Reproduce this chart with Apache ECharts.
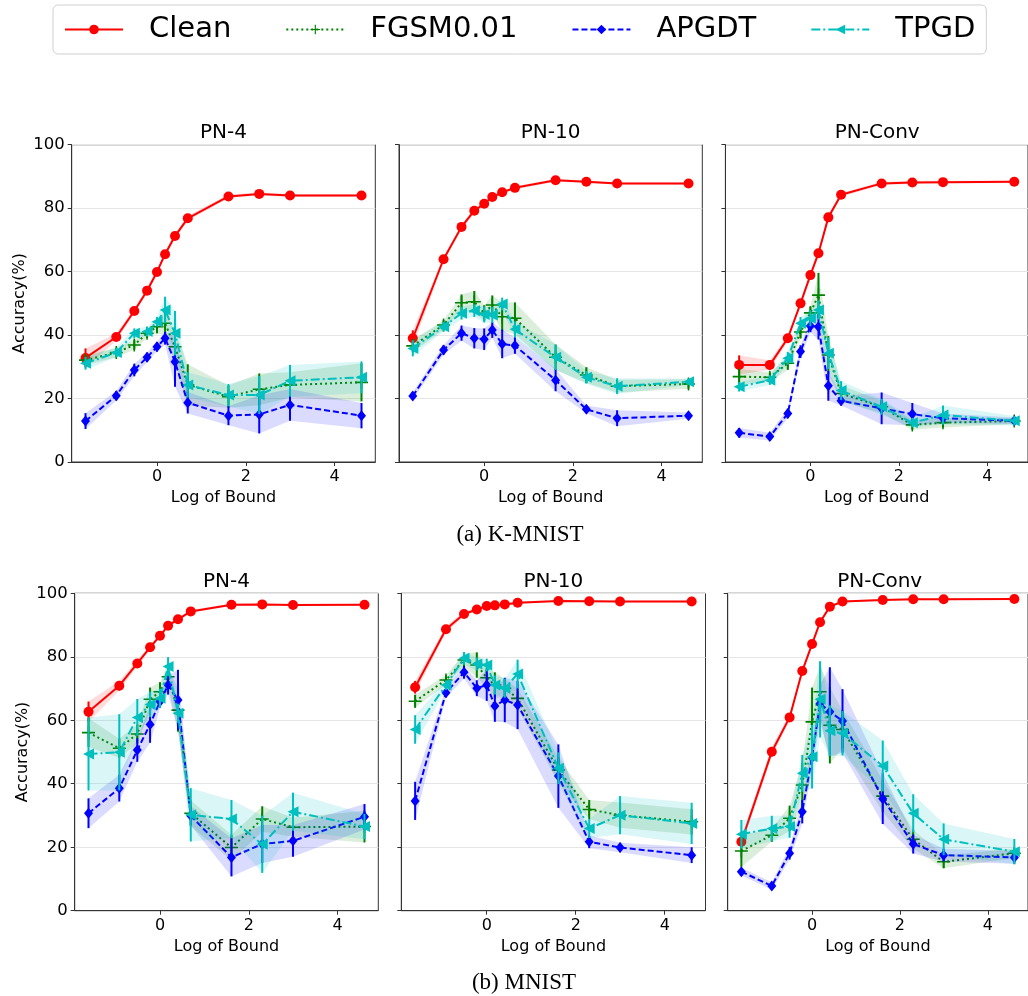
<!DOCTYPE html>
<html><head><meta charset="utf-8">
<script src="https://cdn.jsdelivr.net/npm/echarts@6/dist/echarts.min.js"></script>
<style>html,body{margin:0;padding:0;background:#fff}#c{width:1028px;height:996px}</style>
</head><body><div id="c"></div>
<script>
// ---------- data ----------
const bounds = [0.2, 0.4, 0.6, 0.8, 1, 1.2, 1.5, 2, 5, 10, 20, 100];
const seriesNames = ['Clean', 'FGSM0.01', 'APGDT', 'TPGD'];
const panelTitles = ['PN-4', 'PN-10', 'PN-Conv'];
const captions = ['(a) K-MNIST', '(b) MNIST'];
const xTickValues = [0, 2, 4];

// K-MNIST PN-4
const k4_clean = [32.8, 39.4, 47.6, 54.0, 59.9, 65.5, 71.2, 76.8, 83.7, 84.5, 84.0, 84.0];
const k4_clean_sd = [3.0, 1.2, 0.8, 0.8, 0.8, 0.8, 0.8, 0.8, 0.6, 0.5, 0.5, 0.5];
const k4_fgsm = [32.1, 34.5, 36.9, 40.6, 42.6, 43.7, 36.3, 24.3, 20.6, 22.9, 24.3, 25.1];
const k4_fgsm_sd = [1.5, 1.5, 1.5, 1.5, 2, 4, 5, 6.5, 3.5, 5, 4, 6];
const k4_apgdt = [12.9, 20.9, 29.0, 33.0, 36.3, 39.0, 31.6, 18.7, 14.6, 15.0, 18.0, 14.6];
const k4_apgdt_sd = [2.5, 1.5, 2, 1.5, 1.5, 2, 7.9, 3.4, 3, 6, 5, 4];
const k4_tpgd = [31.1, 34.5, 40.6, 41.1, 44.2, 47.9, 40.6, 24.3, 21.1, 21.1, 25.6, 26.7];
const k4_tpgd_sd = [2, 1.5, 1.5, 1.5, 1.5, 4.2, 7, 4, 3.5, 6, 5, 5];

// K-MNIST PN-10
const k10_clean = [39.0, 63.9, 74.1, 79.2, 81.4, 83.5, 85.0, 86.4, 88.8, 88.3, 87.8, 87.8];
const k10_clean_sd = [2.5, 0.8, 0.8, 0.8, 0.6, 0.6, 0.5, 0.5, 0.5, 0.4, 0.4, 0.4];
const k10_fgsm = [36.6, 43.2, 50.2, 50.5, 46.9, 49.5, 45.8, 45.3, 33.0, 27.4, 23.9, 24.6];
const k10_fgsm_sd = [2, 1.5, 2.6, 3.4, 2.5, 3, 4.5, 5, 4, 2.5, 2, 1.5];
const k10_apgdt = [20.8, 35.3, 40.6, 39.0, 38.7, 41.6, 37.2, 36.7, 25.8, 16.6, 13.8, 14.6];
const k10_apgdt_sd = [1.2, 1.5, 2.4, 3.2, 3.4, 2.5, 4.5, 2.6, 3.5, 1.2, 2.5, 1];
const k10_tpgd = [35.8, 42.6, 46.9, 47.7, 46.5, 46.3, 49.8, 41.8, 33.0, 26.7, 23.9, 25.3];
const k10_tpgd_sd = [2.5, 1.5, 2, 2, 2.5, 2.5, 2, 2.5, 4, 2, 2.5, 1];

// K-MNIST PN-Conv
const kc_clean = [30.6, 30.6, 39.0, 50.0, 58.9, 65.8, 77.1, 84.2, 87.8, 88.1, 88.2, 88.3];
const kc_clean_sd = [3, 1.5, 0.8, 0.8, 0.8, 0.8, 0.8, 0.6, 0.5, 0.5, 0.4, 0.4];
const kc_fgsm = [26.9, 26.7, 31.1, 41.0, 47.0, 52.6, 33.7, 21.6, 17.4, 11.7, 12.4, 12.9];
const kc_fgsm_sd = [2.5, 1.5, 2, 2, 2, 7, 6, 2.5, 2, 1.5, 1.5, 1];
const kc_apgdt = [9.2, 8.0, 15.3, 34.8, 42.9, 42.6, 24.0, 19.3, 16.9, 15.1, 13.8, 13.0];
const kc_apgdt_sd = [1.5, 1.2, 1.5, 2, 2, 4, 4.7, 1.5, 5, 3.5, 1.5, 1];
const kc_tpgd = [23.7, 25.8, 32.7, 43.7, 45.3, 47.9, 34.3, 22.5, 17.4, 12.4, 14.8, 13.0];
const kc_tpgd_sd = [1.5, 1.5, 2, 2, 2.5, 3, 5, 3, 2.5, 1.5, 3, 1.5];

// MNIST PN-4
const m4_clean = [62.7, 70.9, 77.9, 83.0, 86.6, 89.8, 91.8, 94.3, 96.4, 96.5, 96.3, 96.4];
const m4_clean_sd = [3.2, 1.5, 1, 0.8, 0.6, 0.5, 0.5, 0.5, 0.3, 0.3, 0.3, 0.3];
const m4_fgsm = [56.1, 51.2, 55.7, 66.6, 69.0, 73.7, 63.2, 30.7, 19.9, 28.9, 26.3, 26.5];
const m4_fgsm_sd = [4.5, 3, 3, 3.7, 3, 3, 6.8, 4, 4, 4, 3, 5];
const m4_apgdt = [30.7, 38.6, 50.6, 58.7, 65.9, 71.1, 66.4, 29.9, 16.8, 21.0, 22.0, 29.6];
const m4_apgdt_sd = [4.7, 4.2, 3.7, 5.8, 2, 3, 9.5, 3, 6, 6, 5, 4];
const m4_tpgd = [49.4, 49.9, 60.9, 65.0, 66.9, 76.9, 62.2, 30.2, 28.9, 20.9, 31.2, 26.5];
const m4_tpgd_sd = [11.5, 12, 5.8, 4, 3, 3, 3, 8.4, 6, 9, 6, 4];

// MNIST PN-10
const m10_clean = [70.4, 88.7, 93.5, 94.9, 96.0, 96.2, 96.5, 97.0, 97.6, 97.5, 97.4, 97.4];
const m10_clean_sd = [2, 1, 0.8, 0.5, 0.5, 0.4, 0.4, 0.4, 0.3, 0.3, 0.3, 0.3];
const m10_fgsm = [66.0, 72.7, 79.0, 77.4, 73.4, 71.1, 70.1, 66.9, 44.3, 31.9, 30.1, 28.0];
const m10_fgsm_sd = [2, 1.5, 2, 4, 3, 4, 3, 3, 4, 3, 4, 4];
const m10_apgdt = [34.6, 68.7, 75.1, 70.1, 71.1, 64.5, 66.4, 64.8, 42.4, 21.7, 19.9, 17.5];
const m10_apgdt_sd = [6, 1.5, 2, 2.5, 5, 5, 7, 7.6, 10, 2, 1.5, 2.5];
const m10_tpgd = [57.1, 71.1, 79.5, 77.7, 77.4, 71.1, 70.1, 74.6, 44.9, 25.9, 30.1, 27.5];
const m10_tpgd_sd = [4.5, 1.5, 2, 2, 2, 3, 3, 4.5, 5, 3, 6, 6.5];

// MNIST PN-Conv
const mc_clean = [21.7, 50.1, 60.9, 75.5, 84.0, 90.9, 95.8, 97.4, 97.9, 98.1, 98.1, 98.2];
const mc_clean_sd = [1.5, 1.5, 1, 0.8, 0.6, 0.5, 0.4, 0.3, 0.3, 0.3, 0.3, 0.3];
const mc_fgsm = [18.8, 23.8, 29.1, 39.6, 59.5, 69.0, 58.4, 57.1, 36.1, 22.5, 15.4, 18.1];
const mc_fgsm_sd = [5, 2, 4, 7, 10.8, 8, 12, 6, 5, 3, 2, 1.5];
const mc_apgdt = [12.3, 7.8, 18.1, 31.2, 48.3, 65.3, 62.7, 59.8, 35.3, 21.0, 17.5, 16.8];
const mc_apgdt_sd = [1.2, 1.2, 2, 3.7, 4, 6, 14, 10, 8, 3, 2, 2];
const mc_tpgd = [24.1, 25.9, 26.5, 43.3, 48.5, 66.6, 56.7, 55.9, 45.6, 30.7, 22.5, 18.6];
const mc_tpgd_sd = [4.5, 4, 3.5, 5.8, 10, 12, 8, 7, 8, 6, 5, 4];

// ---------- layout / styles ----------
const logX = bounds.map(b => Math.log(b));
const span = logX[logX.length - 1] - logX[0];
const xMin = logX[0] - 0.05 * span, xMax = logX[logX.length - 1] + 0.05 * span;

const FONT = 'DejaVu Sans';
const plusPath = 'path://M-0.12,-1H0.12V-0.12H1V0.12H0.12V1H-0.12V0.12H-1V-0.12H-0.12Z';
const leftTri = 'path://M0,5L10,0L10,10Z';
const styles = [
  {color: '#ff0000', type: 'solid', symbol: 'circle', size: 10},
  {color: '#008000', type: [2, 3], symbol: plusPath, size: 13},
  {color: '#0000ff', type: [6, 3], symbol: 'diamond', size: [9, 11]},
  {color: '#00bfbf', type: [9, 3, 2, 3], symbol: leftTri, size: 11}
];

const panels = [
  {title: 0, g: {left: 71.7, top: 144.7, width: 303.6, height: 317.3}, showY: true,
   mean: [k4_clean, k4_fgsm, k4_apgdt, k4_tpgd], sd: [k4_clean_sd, k4_fgsm_sd, k4_apgdt_sd, k4_tpgd_sd]},
  {title: 1, g: {left: 399, top: 144.7, width: 303.3, height: 317.3}, showY: false,
   mean: [k10_clean, k10_fgsm, k10_apgdt, k10_tpgd], sd: [k10_clean_sd, k10_fgsm_sd, k10_apgdt_sd, k10_tpgd_sd]},
  {title: 2, g: {left: 725.4, top: 144.7, width: 303.6, height: 317.3}, showY: false,
   mean: [kc_clean, kc_fgsm, kc_apgdt, kc_tpgd], sd: [kc_clean_sd, kc_fgsm_sd, kc_apgdt_sd, kc_tpgd_sd]},
  {title: 0, g: {left: 74.7, top: 593.3, width: 303.6, height: 317.4}, showY: true,
   mean: [m4_clean, m4_fgsm, m4_apgdt, m4_tpgd], sd: [m4_clean_sd, m4_fgsm_sd, m4_apgdt_sd, m4_tpgd_sd]},
  {title: 1, g: {left: 401.3, top: 593.3, width: 304.2, height: 317.4}, showY: false,
   mean: [m10_clean, m10_fgsm, m10_apgdt, m10_tpgd], sd: [m10_clean_sd, m10_fgsm_sd, m10_apgdt_sd, m10_tpgd_sd]},
  {title: 2, g: {left: 727.7, top: 593.3, width: 304, height: 317.4}, showY: false,
   mean: [mc_clean, mc_fgsm, mc_apgdt, mc_tpgd], sd: [mc_clean_sd, mc_fgsm_sd, mc_apgdt_sd, mc_tpgd_sd]}
];

const grids = [], xAxes = [], yAxes = [], series = [], graphics = [];
const axisColor = '#333';

function bandRenderer(color) {
  return function (params, api) {
    if (params.dataIndexInside !== 0) return null;
    const n = params.dataInsideLength;
    const up = [], lo = [];
    for (let i = 0; i < n; i++) {
      const xv = api.value(0, i);
      up.push(api.coord([xv, api.value(2, i)]));
      lo.push(api.coord([xv, api.value(1, i)]));
    }
    return {type: 'polygon', shape: {points: up.concat(lo.reverse())},
            style: {fill: color, opacity: 0.14}};
  };
}
function errRenderer(color) {
  return function (params, api) {
    const xv = api.value(0);
    const a = api.coord([xv, api.value(1)]);
    const b = api.coord([xv, api.value(2)]);
    return {type: 'line', shape: {x1: a[0], y1: a[1], x2: b[0], y2: b[1]},
            style: {stroke: color, lineWidth: 2}};
  };
}

panels.forEach((p, pi) => {
  grids.push(Object.assign({show: true, borderColor: axisColor, borderWidth: 1, backgroundColor: 'transparent'}, p.g));
  xAxes.push({
    type: 'value', gridIndex: pi, min: xMin, max: xMax,
    name: 'Log of Bound', nameLocation: 'middle', nameGap: 28,
    nameTextStyle: {fontSize: 16, fontFamily: FONT, color: '#000'},
    axisLine: {show: true, onZero: false, lineStyle: {color: axisColor}},
    axisTick: {show: true, length: 4, lineStyle: {color: axisColor}, customValues: xTickValues},
    axisLabel: {fontSize: 16, fontFamily: FONT, color: '#000', margin: 7, customValues: xTickValues},
    splitLine: {show: false}
  });
  yAxes.push({
    type: 'value', gridIndex: pi, min: 0, max: 100, interval: 20,
    name: p.showY ? 'Accuracy(%)' : '', nameLocation: 'middle', nameGap: 44, nameRotate: 90,
    nameTextStyle: {fontSize: 16, fontFamily: FONT, color: '#000'},
    axisLine: {show: true, onZero: false, lineStyle: {color: axisColor}},
    axisTick: {show: true, length: 4, lineStyle: {color: axisColor}},
    axisLabel: {show: p.showY, fontSize: 16.5, fontFamily: FONT, color: '#000', margin: 7},
    splitLine: {show: true, lineStyle: {color: '#e6e6e6', width: 1}}
  });
  graphics.push({
    type: 'text', x: p.g.left + p.g.width / 2, y: p.g.top - 12, silent: true,
    style: {text: panelTitles[p.title], fontSize: 20, fontFamily: FONT, fill: '#000', align: 'center', verticalAlign: 'middle'}
  });

  styles.forEach((st, k) => {
    const m = p.mean[k], s = p.sd[k];
    const common = {xAxisIndex: pi, yAxisIndex: pi};
    series.push(Object.assign({
      type: 'custom', name: seriesNames[k] + ' band', coordinateSystem: 'cartesian2d', silent: true,
      data: logX.map((x, i) => [x, m[i] - s[i], m[i] + s[i]]),
      encode: {x: 0, y: [1, 2]}, z: 2 + k * 3,
      renderItem: bandRenderer(st.color)
    }, common));
    series.push(Object.assign({
      type: 'custom', name: seriesNames[k] + ' err', coordinateSystem: 'cartesian2d', silent: true,
      data: logX.map((x, i) => [x, m[i] - s[i], m[i] + s[i]]),
      encode: {x: 0, y: [1, 2]}, z: 3 + k * 3,
      renderItem: errRenderer(st.color)
    }, common));
    series.push(Object.assign({
      type: 'line', name: seriesNames[k],
      data: logX.map((x, i) => [x, m[i]]),
      symbol: st.symbol, symbolSize: st.size, showAllSymbol: true,
      itemStyle: {color: st.color, borderWidth: 0},
      lineStyle: {color: st.color, width: 2, type: st.type}, z: 4 + k * 3
    }, common));
  });
});

graphics.push({type: 'text', x: 520, y: 535, silent: true,
  style: {text: captions[0], fontSize: 23, fontFamily: 'Liberation Serif', fill: '#000', align: 'center', verticalAlign: 'middle'}});
graphics.push({type: 'text', x: 524, y: 983, silent: true,
  style: {text: captions[1], fontSize: 23, fontFamily: 'Liberation Serif', fill: '#000', align: 'center', verticalAlign: 'middle'}});

const chart = echarts.init(document.getElementById('c'), null, {renderer: 'canvas'});
chart.setOption({
  animation: false,
  backgroundColor: '#fff',
  legend: {
    data: seriesNames, top: 5, left: 53,
    itemWidth: 58, itemHeight: 12, itemGap: 54,
    padding: [10, 11, 10, 11], borderColor: '#d0d0d0', borderWidth: 1, borderRadius: 5,
    textStyle: {fontSize: 29, fontFamily: FONT, color: '#000', padding: [0, 0, 0, 21]}
  },
  grid: grids, xAxis: xAxes, yAxis: yAxes, series: series, graphic: graphics
});
</script></body></html>
